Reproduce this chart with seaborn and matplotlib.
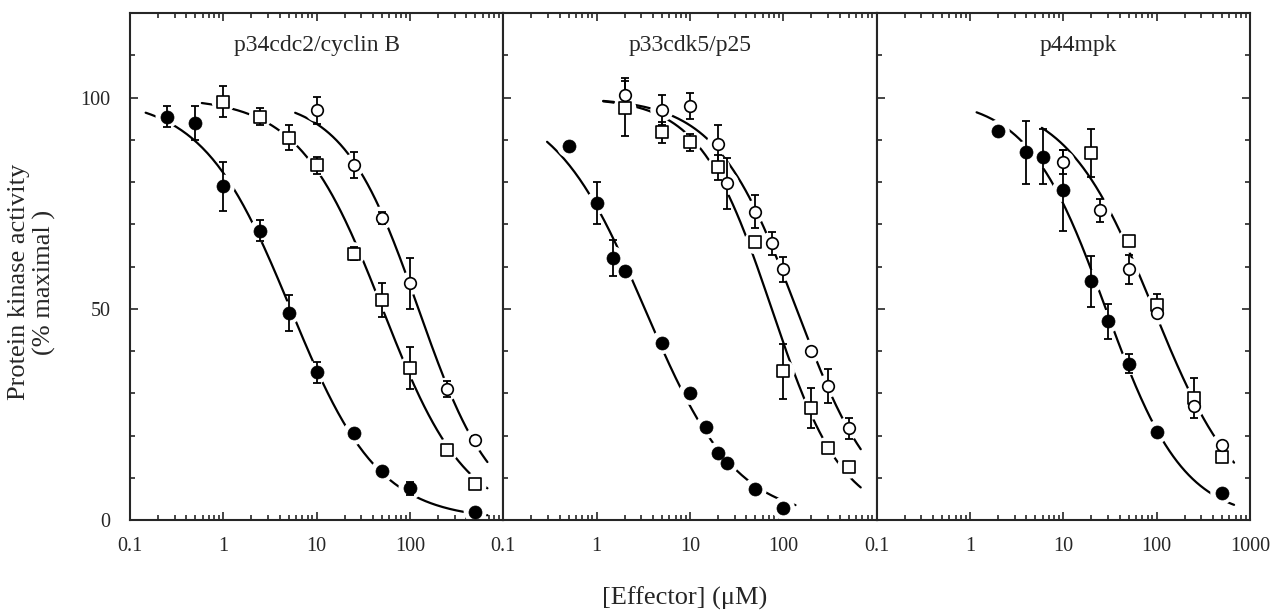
import numpy as np
import matplotlib
matplotlib.use("Agg")
import matplotlib.pyplot as plt
import seaborn as sns
from matplotlib.ticker import MultipleLocator, LogLocator, NullFormatter

# ---- data ----
titles = ["p34cdc2/cyclin B", "p33cdk5/p25", "p44mpk"]

# panel 1: p34cdc2/cyclin B
p1_fill_x = [0.25, 0.5, 1, 2.5, 5, 10, 25, 50, 100, 500]
p1_fill_y = [95.5, 94, 79, 68.5, 49, 35, 20.5, 11.5, 7.5, 2]
p1_fill_e = [2.5, 4, 5.8, 2.4, 4.3, 2.5, 0, 0, 1.5, 0]
p1_sq_x = [1, 2.5, 5, 10, 25, 50, 100, 250, 500]
p1_sq_y = [99, 95.5, 90.5, 84, 63, 52, 36, 16.5, 8.5]
p1_sq_e = [3.7, 2, 3, 2, 1.5, 4, 5, 0, 0]
p1_ci_x = [10, 25, 50, 100, 250, 500]
p1_ci_y = [97, 84, 71.5, 56, 31, 19]
p1_ci_e = [3.2, 3, 1.5, 6, 2, 1]

# panel 2: p33cdk5/p25
p2_fill_x = [0.5, 1, 1.5, 2, 5, 10, 15, 20, 25, 50, 100]
p2_fill_y = [88.5, 75, 62, 59, 42, 30, 22, 15.8, 13.4, 7.3, 2.8]
p2_fill_e = [1, 5, 4.3, 1, 0, 0, 0, 0, 0, 0, 0]
p2_sq_x = [2, 5, 10, 20, 50, 100, 200, 300, 500]
p2_sq_y = [97.4, 91.8, 89.4, 83.5, 65.7, 35.2, 26.5, 17, 12.5]
p2_sq_e = [6.5, 2.5, 2, 3, 1, 6.5, 4.7, 0, 0]
p2_ci_x = [2, 5, 10, 20, 25, 50, 75, 100, 200, 300, 500]
p2_ci_y = [100.5, 97, 98, 89, 79.7, 73, 65.5, 59.3, 40, 31.7, 21.7]
p2_ci_e = [4, 3.5, 3, 4.5, 6, 4, 2.7, 3, 0, 4, 2.5]

# panel 3: p44mpk
p3_fill_x = [2, 4, 6, 10, 20, 30, 50, 100, 500]
p3_fill_y = [92, 87, 86, 78, 56.5, 47, 37, 20.8, 6.4]
p3_fill_e = [0, 7.5, 6.5, 9.5, 6, 4.2, 2.3, 0, 0]
p3_sq_x = [20, 50, 100, 250, 500]
p3_sq_y = [86.8, 66, 51, 28.8, 15]
p3_sq_e = [5.7, 0, 2.4, 4.7, 0]
p3_ci_x = [10, 25, 50, 100, 250, 500]
p3_ci_y = [84.7, 73.3, 59.3, 48.9, 27, 17.7]
p3_ci_e = [2.8, 2.7, 3.4, 0, 0, 0]

panels = [
    {"fill": (p1_fill_x, p1_fill_y, p1_fill_e), "sq": (p1_sq_x, p1_sq_y, p1_sq_e),
     "ci": (p1_ci_x, p1_ci_y, p1_ci_e), "joint_open": False},
    {"fill": (p2_fill_x, p2_fill_y, p2_fill_e), "sq": (p2_sq_x, p2_sq_y, p2_sq_e),
     "ci": (p2_ci_x, p2_ci_y, p2_ci_e), "joint_open": False},
    {"fill": (p3_fill_x, p3_fill_y, p3_fill_e), "sq": (p3_sq_x, p3_sq_y, p3_sq_e),
     "ci": (p3_ci_x, p3_ci_y, p3_ci_e), "joint_open": True},
]


def hill_fit(x, y):
    # least-squares grid search for y = 100 / (1 + (x/IC50)^n)
    lx = np.log10(np.asarray(x, float))
    y = np.asarray(y, float)
    lc = np.arange(-1, 3.5, 0.005)[:, None, None]
    n = np.arange(0.3, 3.0, 0.01)[None, :, None]
    pred = 100 / (1 + 10 ** (n * (lx[None, None, :] - lc)))
    sse = ((pred - y) ** 2).sum(axis=2)
    i, j = np.unravel_index(sse.argmin(), sse.shape)
    return lc[i, 0, 0], n[0, j, 0]


def draw_curve(ax, x, y):
    lc, n = hill_fit(x, y)
    xs = np.logspace(np.log10(min(x) / 1.7), np.log10(max(x) * 1.35), 200)
    ys = 100 / (1 + 10 ** (n * (np.log10(xs) - lc)))
    sns.lineplot(x=xs, y=ys, ax=ax, color="black", lw=1.6, estimator=None,
                 sort=False, zorder=1)


sns.set_style("ticks")
plt.rcParams["font.family"] = ["Liberation Serif", "DejaVu Serif"]

fig = plt.figure(figsize=(12.84, 6.14), dpi=100)
W, H = 1284, 614
left0, right0, top0, bot0 = 130, 1250, 13, 520
pw = (right0 - left0) / 3

styles = {
    "fill": dict(marker="o", s=88, color="black", edgecolor="black", linewidth=0.5),
    "sq": dict(marker="s", s=66, color="white", edgecolor="black", linewidth=1.2),
    "ci": dict(marker="o", s=70, color="white", edgecolor="black", linewidth=1.2),
}

for i, (pan, title) in enumerate(zip(panels, titles)):
    ax = fig.add_axes([(left0 + i * pw) / W, 1 - bot0 / H, pw / W, (bot0 - top0) / H])
    ax.set_xscale("log")
    ax.set_xlim(0.1, 1000)
    ax.set_ylim(0, 120)

    # fitted curves
    draw_curve(ax, pan["fill"][0], pan["fill"][1])
    if pan["joint_open"]:
        draw_curve(ax, pan["sq"][0] + pan["ci"][0], pan["sq"][1] + pan["ci"][1])
    else:
        draw_curve(ax, pan["sq"][0], pan["sq"][1])
        draw_curve(ax, pan["ci"][0], pan["ci"][1])

    # white halos break the curves around the symbols
    for key in ["fill", "sq", "ci"]:
        x, y, e = pan[key]
        sns.scatterplot(x=x, y=y, ax=ax, marker="o", s=280, color="white",
                        edgecolor="none", zorder=2, legend=False)
    for key in ["fill", "sq", "ci"]:
        x, y, e = pan[key]
        ax.errorbar(x, y, yerr=e, fmt="none", ecolor="black", elinewidth=1.3,
                    capsize=3, capthick=1.3, zorder=3)
    for key in ["fill", "sq", "ci"]:
        x, y, e = pan[key]
        sns.scatterplot(x=x, y=y, ax=ax, zorder=4, legend=False, **styles[key])

    ax.text(0.54 if i == 2 else 0.5, 0.935, title, transform=ax.transAxes,
            ha="center", va="center", fontsize=17)

    ax.set_yticks([0, 50, 100])
    ax.yaxis.set_minor_locator(MultipleLocator(10))
    ax.set_xticks([0.1, 1, 10, 100, 1000])
    if i == 2:
        ax.set_xticklabels(["0.1", "1", "10", "100", "1000"])
    else:
        ax.set_xticklabels(["0.1", "1", "10", "100", ""])
    ax.xaxis.set_minor_locator(LogLocator(base=10, subs=np.arange(2, 10)))
    ax.xaxis.set_minor_formatter(NullFormatter())
    ax.set_xlabel("")
    ax.set_ylabel("")
    ax.tick_params(which="both", direction="in", top=True, left=True,
                   right=(i == 2), labelleft=(i == 0), width=1.2)
    ax.tick_params(which="major", length=6, labelsize=14.5)
    ax.tick_params(which="minor", length=3.5)
    ax.tick_params(axis="x", which="major", pad=12)
    ax.tick_params(axis="y", which="major", pad=14)
    for sp in ax.spines.values():
        sp.set_visible(True)
        sp.set_linewidth(1.5)

fig.text(32 / W, 1 - 282 / H, "Protein kinase activity\n(% maximal )", rotation=90,
         ha="center", va="center", fontsize=19, multialignment="center",
         linespacing=1.2)
fig.text(685 / W, 1 - 598 / H, "[Effector] (\u03bcM)", ha="center", va="center",
         fontsize=19)

fig.savefig("out.png", dpi=100)
